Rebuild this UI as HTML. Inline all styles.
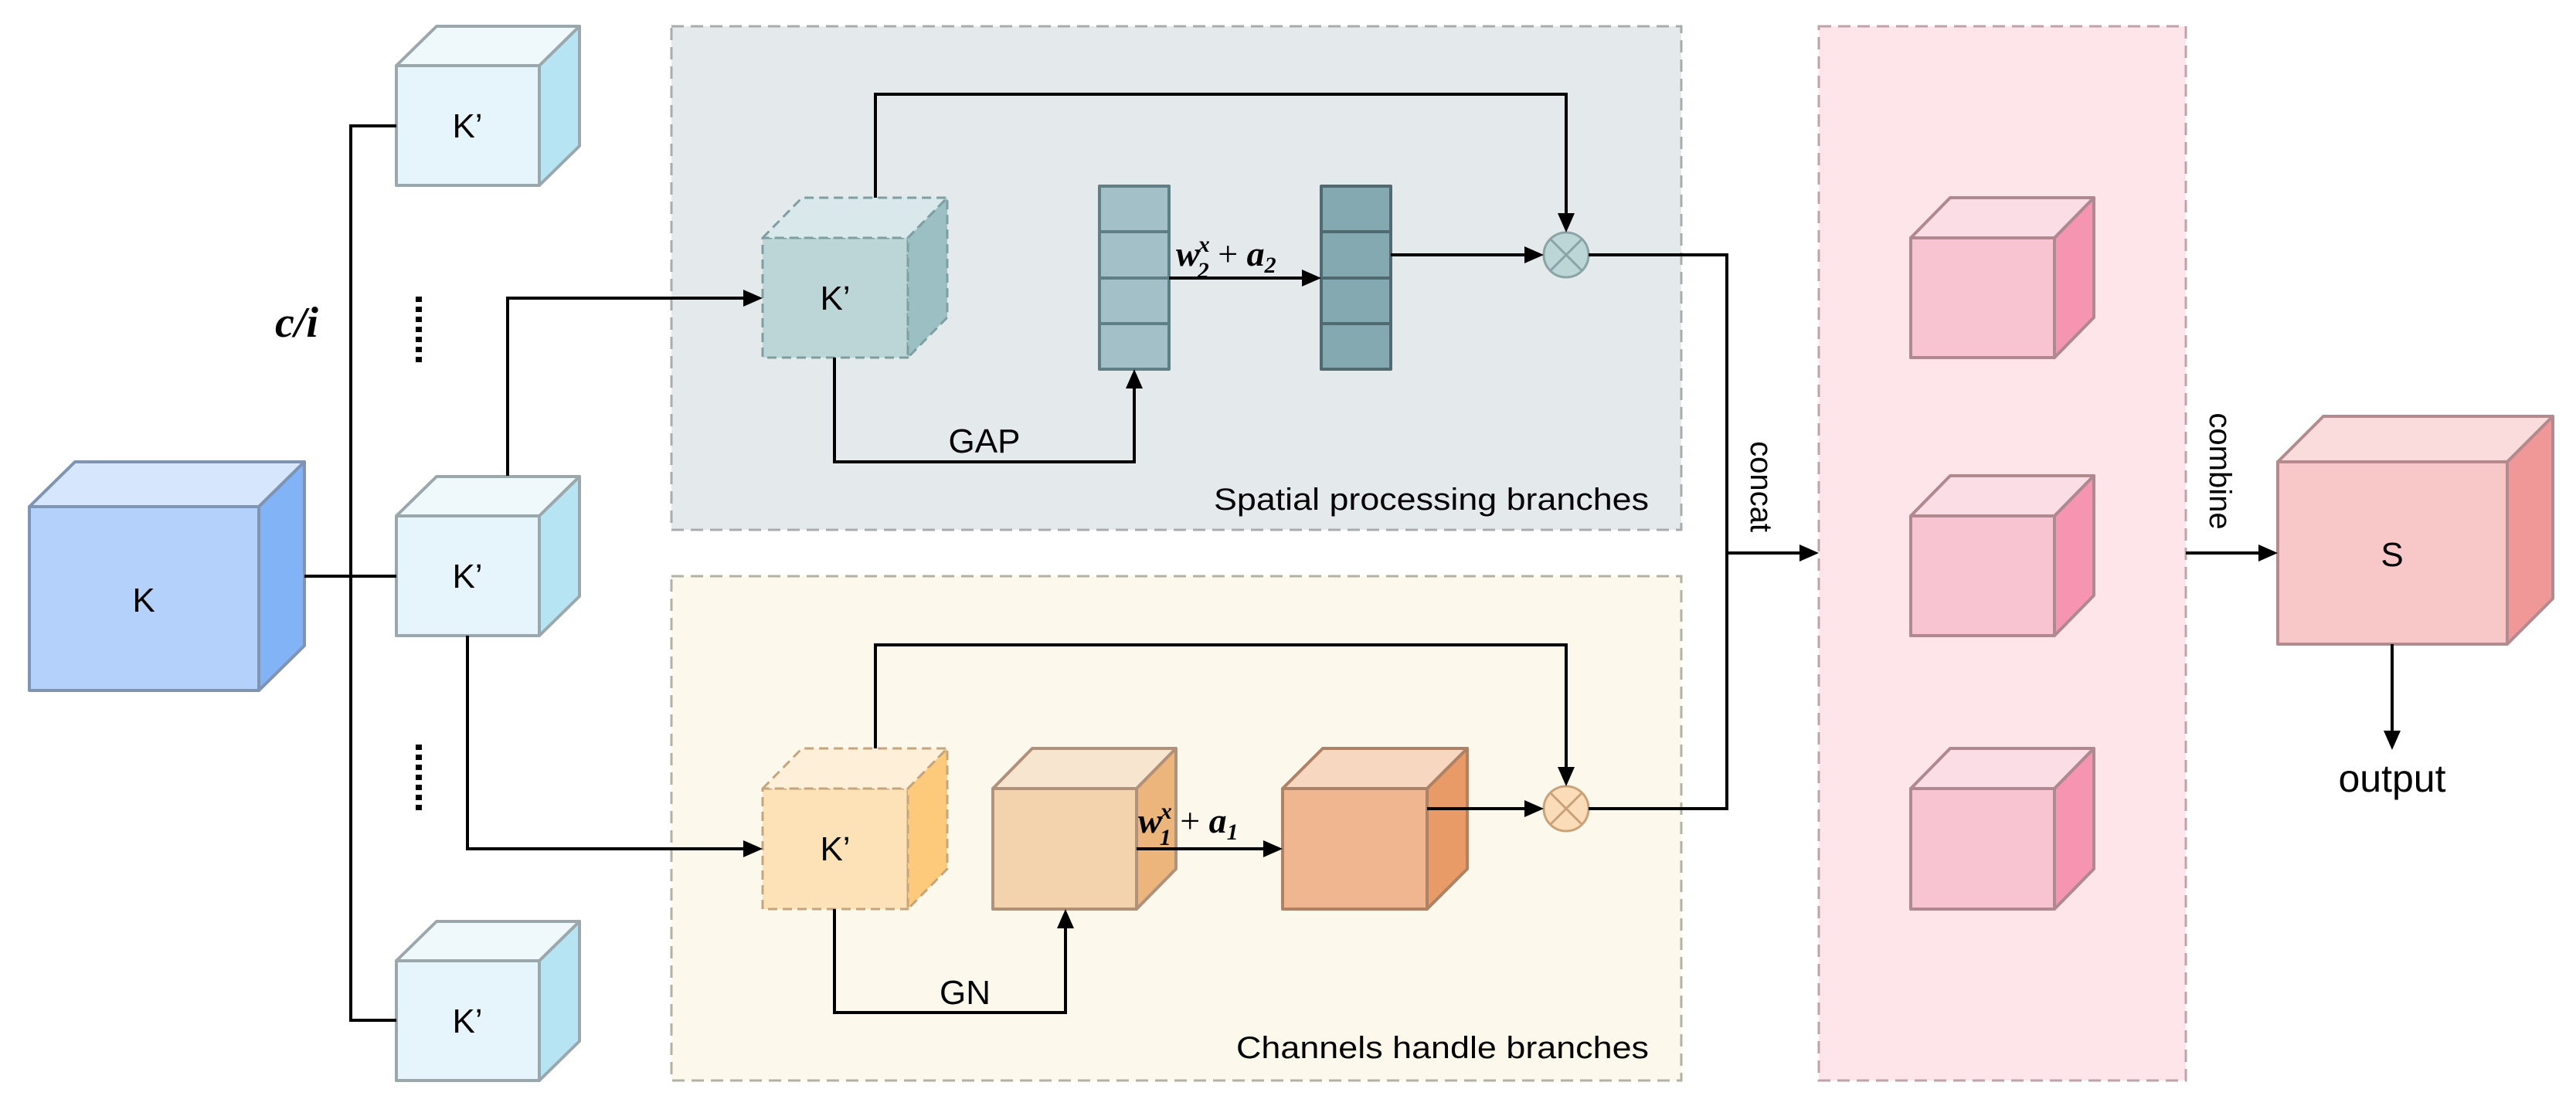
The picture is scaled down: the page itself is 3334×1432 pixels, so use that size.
<!DOCTYPE html>
<html><head><meta charset="utf-8"><style>
html,body{margin:0;padding:0;background:#fff}
svg{display:block}
text{font-family:"Liberation Sans",sans-serif;fill:#000}
.m{font-family:"Liberation Serif",serif;font-style:italic}
</style></head><body>
<svg width="3334" height="1432" viewBox="0 0 3334 1432" xmlns="http://www.w3.org/2000/svg">
<!-- region boxes -->
<rect x="869" y="34" width="1307" height="652" fill="#e4eaec" stroke="#a9acae" stroke-width="3" stroke-dasharray="16,9"/>
<rect x="869" y="746" width="1307" height="653" fill="#fcf9ec" stroke="#b5b0a4" stroke-width="3" stroke-dasharray="16,9"/>
<rect x="2354" y="34" width="475" height="1365" fill="#fde5ea" stroke="#bfa3a9" stroke-width="3" stroke-dasharray="16,9"/>

<g stroke-width="4" stroke-linejoin="round">
<g stroke="#7f93b3">
<rect x="38" y="656" width="297" height="238" fill="#b3d1fb"/>
<polygon points="38,656 97,598 394,598 335,656" fill="#d6e6fd"/>
<polygon points="335,656 394,598 394,836 335,894" fill="#82b3f7"/>
</g>
<g stroke="#9aa8ad">
<rect x="513" y="85" width="185" height="155" fill="#e6f5fb"/>
<polygon points="513,85 565,34 750,34 698,85" fill="#eff9fc"/>
<polygon points="698,85 750,34 750,189 698,240" fill="#b6e4f3"/>
<rect x="513" y="668" width="185" height="155" fill="#e6f5fb"/>
<polygon points="513,668 565,617 750,617 698,668" fill="#eff9fc"/>
<polygon points="698,668 750,617 750,772 698,823" fill="#b6e4f3"/>
<rect x="513" y="1244" width="185" height="155" fill="#e6f5fb"/>
<polygon points="513,1244 565,1193 750,1193 698,1244" fill="#eff9fc"/>
<polygon points="698,1244 750,1193 750,1348 698,1399" fill="#b6e4f3"/>
</g>
<g stroke="#7f9ea1" stroke-dasharray="12,7" stroke-width="3">
<rect x="987" y="308" width="188" height="155" fill="#bcd6d8"/>
<polygon points="987,308 1038,256 1226,256 1175,308" fill="#d9e8ea"/>
<polygon points="1175,308 1226,256 1226,411 1175,463" fill="#9bbfc3"/>
</g>
<g stroke="#c4a57d" stroke-dasharray="12,7" stroke-width="3">
<rect x="987" y="1021" width="188" height="156" fill="#fde2b7"/>
<polygon points="987,1021 1038,969 1226,969 1175,1021" fill="#feefd8"/>
<polygon points="1175,1021 1226,969 1226,1125 1175,1177" fill="#fdc97a"/>
</g>
<g stroke="#b1917a">
<rect x="1285" y="1021" width="186" height="156" fill="#f3d3ae"/>
<polygon points="1285,1021 1336,969 1522,969 1471,1021" fill="#f8e5d0"/>
<polygon points="1471,1021 1522,969 1522,1125 1471,1177" fill="#ebb57c"/>
</g>
<g stroke="#ad8266">
<rect x="1660" y="1021" width="187" height="156" fill="#f0b690"/>
<polygon points="1660,1021 1712,969 1899,969 1847,1021" fill="#f8d7c0"/>
<polygon points="1847,1021 1899,969 1899,1125 1847,1177" fill="#e89b66"/>
</g>
<g stroke="#5f7f86">
<rect x="1423" y="241" width="90" height="237" fill="#a3c0c8"/>
<line x1="1423" y1="300" x2="1513" y2="300"/><line x1="1423" y1="360" x2="1513" y2="360"/><line x1="1423" y1="419" x2="1513" y2="419"/>
</g>
<g stroke="#4f6a70">
<rect x="1710" y="241" width="90" height="237" fill="#85a9b1"/>
<line x1="1710" y1="300" x2="1800" y2="300"/><line x1="1710" y1="360" x2="1800" y2="360"/><line x1="1710" y1="419" x2="1800" y2="419"/>
</g>
<g stroke="#b0888f">
<rect x="2473" y="308" width="186" height="155" fill="#f8c4d1"/>
<polygon points="2473,308 2524,256 2710,256 2659,308" fill="#fbdde5"/>
<polygon points="2659,308 2710,256 2710,411 2659,463" fill="#f595b1"/>
<rect x="2473" y="668" width="186" height="155" fill="#f8c4d1"/>
<polygon points="2473,668 2524,616 2710,616 2659,668" fill="#fbdde5"/>
<polygon points="2659,668 2710,616 2710,771 2659,823" fill="#f595b1"/>
<rect x="2473" y="1021" width="186" height="156" fill="#f8c4d1"/>
<polygon points="2473,1021 2524,969 2710,969 2659,1021" fill="#fbdde5"/>
<polygon points="2659,1021 2710,969 2710,1125 2659,1177" fill="#f595b1"/>
</g>
<g stroke="#b58a8e">
<rect x="2948" y="598" width="297" height="236" fill="#f8c7c8"/>
<polygon points="2948,598 3007,539 3304,539 3245,598" fill="#fbdcdc"/>
<polygon points="3245,598 3304,539 3304,775 3245,834" fill="#f09898"/>
</g>
<g stroke="#8aa3a6" stroke-width="3">
<circle cx="2027" cy="330" r="29" fill="#bcd6d8"/>
<line x1="2006" y1="309" x2="2048" y2="351"/><line x1="2048" y1="309" x2="2006" y2="351"/>
</g>
<g stroke="#c9a27a" stroke-width="3">
<circle cx="2027" cy="1047" r="29" fill="#fbdcb8"/>
<line x1="2006" y1="1026" x2="2048" y2="1068"/><line x1="2048" y1="1026" x2="2006" y2="1068"/>
</g>
</g>

<g fill="none" stroke="#000" stroke-width="4">
<polyline points="513,163 454,163 454,1321 513,1321"/>
<line x1="394" y1="746" x2="513" y2="746"/>
<polyline points="657,616 657,386 962,386"/>
<polyline points="605,823 605,1099 962,1099"/>
<polyline points="1133,256 1133,122 2027,122 2027,278"/>
<polyline points="1080,463 1080,598 1468,598 1468,503"/>
<line x1="1513" y1="360" x2="1686" y2="360"/>
<line x1="1800" y1="330" x2="1974" y2="330"/>
<polyline points="1133,969 1133,835 2027,835 2027,994"/>
<polyline points="1080,1177 1080,1311 1379,1311 1379,1202"/>
<line x1="1471" y1="1099" x2="1636" y2="1099"/>
<line x1="1847" y1="1047" x2="1974" y2="1047"/>
<polyline points="2056,330 2235,330 2235,1047 2056,1047"/>
<line x1="2235" y1="716" x2="2330" y2="716"/>
<line x1="2829" y1="716" x2="2924" y2="716"/>
<line x1="3096" y1="834" x2="3096" y2="947"/>
</g>
<g fill="#000">
<polygon points="987,386 962,375 962,397"/>
<polygon points="987,1099 962,1088 962,1110"/>
<polygon points="2027,301 2016,276 2038,276"/>
<polygon points="1468,478 1457,503 1479,503"/>
<polygon points="1710,360 1685,349 1685,371"/>
<polygon points="1998,330 1973,319 1973,341"/>
<polygon points="2027,1018 2016,993 2038,993"/>
<polygon points="1379,1177 1368,1202 1390,1202"/>
<polygon points="1660,1099 1635,1088 1635,1110"/>
<polygon points="1998,1047 1973,1036 1973,1058"/>
<polygon points="2354,716 2329,705 2329,727"/>
<polygon points="2948,716 2923,705 2923,727"/>
<polygon points="3096,971 3085,946 3107,946"/>
</g>
<line x1="542" y1="384" x2="542" y2="473" stroke="#000" stroke-width="8" stroke-dasharray="7,6"/>
<line x1="542" y1="964" x2="542" y2="1053" stroke="#000" stroke-width="8" stroke-dasharray="7,6"/>

<g font-size="44" text-anchor="middle">
<text x="186" y="792">K</text>
<text x="605" y="178">K’</text>
<text x="605" y="761">K’</text>
<text x="605" y="1337">K’</text>
<text x="1081" y="401">K’</text>
<text x="1081" y="1114">K’</text>
<text x="3096" y="733">S</text>
<text x="1274" y="586">GAP</text>
<text x="1249" y="1300">GN</text>
</g>
<text x="3096" y="1025" font-size="50" text-anchor="middle">output</text>
<text x="2134" y="660" font-size="40" text-anchor="end" textLength="563" lengthAdjust="spacingAndGlyphs">Spatial processing branches</text>
<text x="2134" y="1370" font-size="40" text-anchor="end" textLength="534" lengthAdjust="spacingAndGlyphs">Channels handle branches</text>
<text transform="translate(2266,630) rotate(90)" font-size="40" text-anchor="middle">concat</text>
<text transform="translate(2860,610) rotate(90)" font-size="40" text-anchor="middle">combine</text>
<text class="m" x="384" y="436" font-size="56" text-anchor="middle" font-weight="bold">c/i</text>
<text class="m" x="1522" y="344" font-size="46" font-weight="bold">w<tspan font-size="30" dy="-18" dx="-2">x</tspan><tspan font-size="30" dy="34" dx="-16">2</tspan><tspan dy="-16" font-style="normal" font-weight="normal"> + </tspan>a<tspan font-size="30" dy="9">2</tspan></text>
<text class="m" x="1473" y="1078" font-size="46" font-weight="bold">w<tspan font-size="30" dy="-18" dx="-2">x</tspan><tspan font-size="30" dy="34" dx="-16">1</tspan><tspan dy="-16" font-style="normal" font-weight="normal"> + </tspan>a<tspan font-size="30" dy="9">1</tspan></text>
</svg>
</body></html>
